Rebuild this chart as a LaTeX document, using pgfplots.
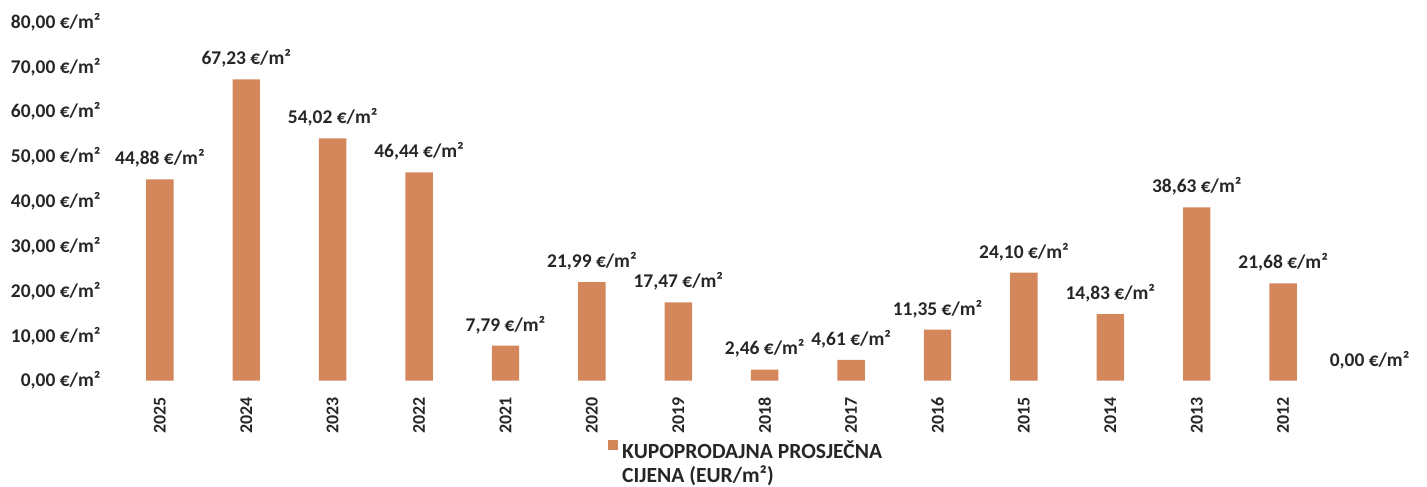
\documentclass[border=0pt]{standalone}
\usepackage{fontspec}
\setmainfont{Carlito}
\usepackage{pgfplots}
\pgfplotsset{compat=1.18}
\definecolor{barcol}{HTML}{D4875B}
\definecolor{txt}{HTML}{262626}

% cijene po godinama
\pgfplotstableread{
x y
0 44.88
1 67.23
2 54.02
3 46.44
4 7.79
5 21.99
6 17.47
7 2.46
8 4.61
9 11.35
10 24.10
11 14.83
12 38.63
13 21.68
}\prices

% prazna kategorija desno
\pgfplotstableread{
x y
14 0
}\zerocat

\begin{document}
\begin{tikzpicture}[font=\bfseries\fontsize{9}{11}\selectfont]
\begin{axis}[
  scale only axis,
  width=604pt, height=166pt,
  ybar, bar width=12.7pt, bar shift=0pt,
  xmin=-0.6, xmax=14.5,
  ymin=0, ymax=80,
  ytick={0,10,...,80},
  xtick={0,...,13},
  xticklabels={2025,2024,2023,2022,2021,2020,2019,2018,2017,2016,2015,2014,2013,2012},
  x tick label style={rotate=90, anchor=east, text=txt, font=\bfseries\fontsize{8.3}{10}\selectfont},
  y tick label style={text=txt},
  /pgf/number format/assume math mode=true,
  yticklabel={\pgfmathprintnumber[fixed,fixed zerofill,precision=2,use comma]{\tick} €/m²},
  axis line style={draw=none},
  tick style={draw=none},
  nodes near coords={\pgfmathprintnumber[fixed,fixed zerofill,precision=2,use comma]{\pgfplotspointmeta} €/m²},
  every node near coord/.append style={text=txt, yshift=2pt},
  legend style={draw=none, at={(0.49,-0.155)}, anchor=north, text=txt,
    font=\bfseries\fontsize{10}{10.8}\selectfont, inner sep=0pt},
  legend cell align=left,
  legend image code/.code={\fill[barcol] (0pt,3.4pt) rectangle (4.5pt,7.9pt);},
]
\addplot[fill=barcol, draw=none] table[x=x, y=y] {\prices};
\addlegendentry{\begin{tabular}{@{}l@{}}KUPOPRODAJNA PROSJEČNA\\CIJENA (EUR/m²)\end{tabular}}
\addplot[draw=none, fill=none, forget plot] table[x=x, y=y] {\zerocat};
\end{axis}
\pgfresetboundingbox
\path[use as bounding box] ([xshift=-50pt,yshift=-49pt]current axis.south west)
  rectangle ([xshift=6.6pt,yshift=10.2pt]current axis.north east);
\end{tikzpicture}
\end{document}
